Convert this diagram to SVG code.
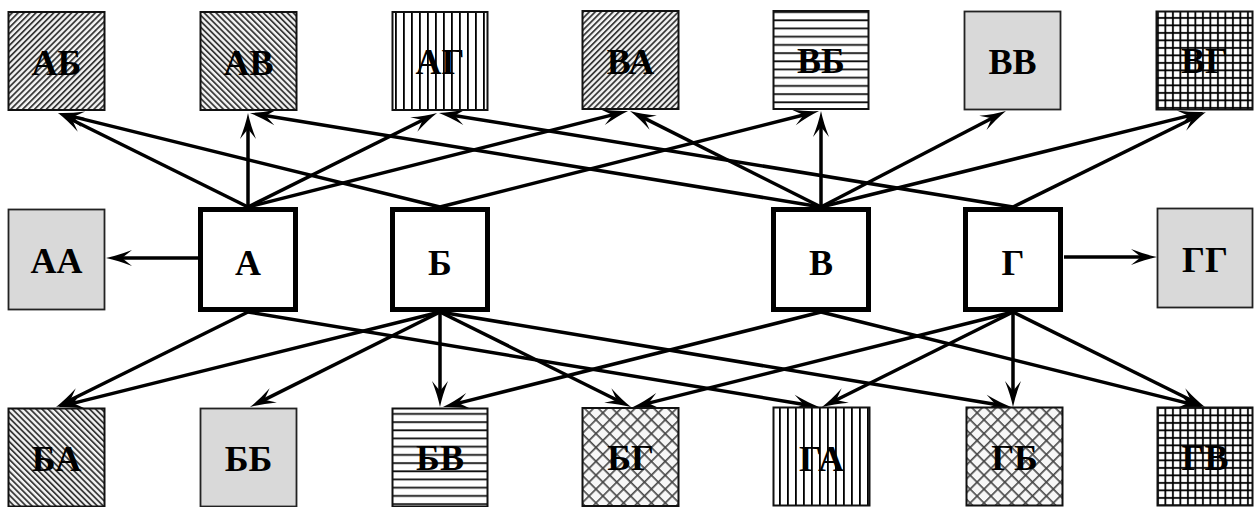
<svg xmlns="http://www.w3.org/2000/svg" width="1254" height="507" viewBox="0 0 1254 507">
  <style>
    .lbl { font-family: "Liberation Serif", "Times New Roman", serif; font-weight: bold; font-size: 36px; fill: #000; text-anchor: middle; }
    .leaf { stroke: #111; stroke-width: 2; }
    .grey { fill: #d9d9d9; stroke: #222; stroke-width: 1.8; }
    .core { fill: #fff; stroke: #000; stroke-width: 5; }
    .edge { stroke: #000; stroke-width: 3.5; fill: none; marker-end: url(#arrow); }
  </style>
  <defs>
    <marker id="arrow" markerUnits="userSpaceOnUse" markerWidth="28" markerHeight="16" refX="14" refY="8" orient="auto" overflow="visible">
      <path d="M26,8 Q14,5.5 0,0 L10,8 L0,16 Q14,10.5 26,8 Z" fill="#000"/>
    </marker>
    <!-- "/" hatching -->
    <pattern id="hatchR" patternUnits="userSpaceOnUse" width="4.2" height="4.2" patternTransform="rotate(45)">
      <rect width="4.2" height="4.2" fill="#f4f4f4"/>
      <rect width="1.8" height="4.2" fill="#3a3a3a"/>
    </pattern>
    <!-- "\" hatching -->
    <pattern id="hatchL" patternUnits="userSpaceOnUse" width="4.2" height="4.2" patternTransform="rotate(-45)">
      <rect width="4.2" height="4.2" fill="#f4f4f4"/>
      <rect width="1.8" height="4.2" fill="#3a3a3a"/>
    </pattern>
    <pattern id="vlines" patternUnits="userSpaceOnUse" width="8" height="8">
      <rect width="8" height="8" fill="#fff"/>
      <rect x="3" width="1.8" height="8" fill="#000"/>
    </pattern>
    <pattern id="hlines" patternUnits="userSpaceOnUse" width="8" height="8.2">
      <rect width="8" height="8.2" fill="#fff"/>
      <rect y="3" width="8" height="1.8" fill="#111"/>
    </pattern>
    <pattern id="grid" patternUnits="userSpaceOnUse" width="7.5" height="7.5">
      <rect width="7.5" height="7.5" fill="#fff"/>
      <rect x="2" width="1.8" height="7.5" fill="#000"/>
      <rect y="2" width="7.5" height="1.8" fill="#000"/>
    </pattern>
    <pattern id="cross" patternUnits="userSpaceOnUse" width="9.8" height="9.8" patternTransform="rotate(45)">
      <rect width="9.8" height="9.8" fill="#f7f7f7"/>
      <rect x="2" width="1.6" height="9.8" fill="#444"/>
      <rect y="2" width="9.8" height="1.6" fill="#444"/>
    </pattern>
  </defs>

  <rect width="1254" height="507" fill="#fff"/>

  <!-- connectors -->
  <g id="connectors">
    <!-- upward -->
    <line class="edge" x1="248" y1="207" x2="68.8" y2="118.3"/>
    <line class="edge" x1="440" y1="207" x2="69.7" y2="115.9"/>
    <line class="edge" x1="248" y1="207" x2="248" y2="125"/>
    <line class="edge" x1="821" y1="207" x2="261.8" y2="115"/>
    <line class="edge" x1="248" y1="207" x2="426.3" y2="118.3"/>
    <line class="edge" x1="1013" y1="207" x2="450.8" y2="114.9"/>
    <line class="edge" x1="248" y1="207" x2="616.4" y2="113.9"/>
    <line class="edge" x1="821" y1="207" x2="640.7" y2="116.4"/>
    <line class="edge" x1="440" y1="207" x2="807.4" y2="114"/>
    <line class="edge" x1="821" y1="207" x2="821" y2="123"/>
    <line class="edge" x1="821" y1="207" x2="995.3" y2="116.5"/>
    <line class="edge" x1="821" y1="207" x2="1192.4" y2="114.9"/>
    <line class="edge" x1="1013" y1="207" x2="1195.2" y2="117.3"/>
    <!-- sideways -->
    <line class="edge" x1="199" y1="258" x2="118" y2="258"/>
    <line class="edge" x1="1064" y1="257" x2="1145" y2="257"/>
    <!-- downward -->
    <line class="edge" x1="248" y1="312" x2="66.8" y2="401.7"/>
    <line class="edge" x1="440" y1="312" x2="69.6" y2="404.1"/>
    <line class="edge" x1="440" y1="312" x2="260.7" y2="401.6"/>
    <line class="edge" x1="440" y1="312" x2="440" y2="395"/>
    <line class="edge" x1="821" y1="312" x2="454.6" y2="404.1"/>
    <line class="edge" x1="440" y1="312" x2="620.3" y2="401.7"/>
    <line class="edge" x1="1013" y1="312" x2="644.6" y2="404.1"/>
    <line class="edge" x1="248" y1="312" x2="807.2" y2="405"/>
    <line class="edge" x1="1013" y1="312" x2="832.7" y2="401.7"/>
    <line class="edge" x1="440" y1="312" x2="999.2" y2="405"/>
    <line class="edge" x1="1013" y1="312" x2="1013" y2="395"/>
    <line class="edge" x1="821" y1="312" x2="1191.4" y2="404.1"/>
    <line class="edge" x1="1013" y1="312" x2="1194.2" y2="401.7"/>
  </g>

  <!-- central letters -->
  <g id="node-A"><rect class="core" x="200.5" y="209.5" width="95" height="100"/><text class="lbl" x="248" y="275">А</text></g>
  <g id="node-B"><rect class="core" x="392.5" y="209.5" width="95" height="100"/><text class="lbl" x="440" y="275">Б</text></g>
  <g id="node-V"><rect class="core" x="773.5" y="209.5" width="95" height="100"/><text class="lbl" x="821" y="275">В</text></g>
  <g id="node-G"><rect class="core" x="965.5" y="209.5" width="95" height="100"/><text class="lbl" x="1013" y="275">Г</text></g>

  <!-- side pairs -->
  <g id="node-AA"><rect class="grey" x="8.5" y="209.5" width="96" height="100"/><text class="lbl" x="56.5" y="273">АА</text></g>
  <g id="node-GG"><rect class="grey" x="1157.5" y="208.5" width="95" height="99"/><text class="lbl" x="1205" y="272">ГГ</text></g>

  <!-- upper pairs -->
  <g id="node-AB"><rect class="leaf" fill="url(#hatchR)" x="8.5" y="12" width="96" height="98"/><text class="lbl" x="56.5" y="75">АБ</text></g>
  <g id="node-AV"><rect class="leaf" fill="url(#hatchL)" x="200.5" y="12" width="96" height="98"/><text class="lbl" x="248.5" y="75">АВ</text></g>
  <g id="node-AG"><rect class="leaf" fill="url(#vlines)" x="392.5" y="12" width="95" height="98"/><text class="lbl" x="440" y="74">АГ</text></g>
  <g id="node-VA"><rect class="leaf" fill="url(#hatchR)" x="582.5" y="11" width="96" height="98"/><text class="lbl" x="630.5" y="74">ВА</text></g>
  <g id="node-VB"><rect class="leaf" fill="url(#hlines)" x="773.5" y="11" width="95" height="98"/><text class="lbl" x="821" y="73">ВБ</text></g>
  <g id="node-VV"><rect class="grey" x="964.5" y="11.5" width="96" height="98"/><text class="lbl" x="1012.5" y="74">ВВ</text></g>
  <g id="node-VG"><rect class="leaf" fill="url(#grid)" x="1156.5" y="11.5" width="96" height="98"/><text class="lbl" x="1204.5" y="73">ВГ</text></g>

  <!-- lower pairs -->
  <g id="node-BA"><rect class="leaf" fill="url(#hatchL)" x="8.5" y="408.5" width="96" height="98"/><text class="lbl" x="56.5" y="471">БА</text></g>
  <g id="node-BB"><rect class="grey" x="200.5" y="408.5" width="96" height="98"/><text class="lbl" x="248.5" y="471">ББ</text></g>
  <g id="node-BV"><rect class="leaf" fill="url(#hlines)" x="392.5" y="408.5" width="95" height="98"/><text class="lbl" x="440" y="470">БВ</text></g>
  <g id="node-BG"><rect class="leaf" fill="url(#cross)" x="582.5" y="408" width="96" height="98"/><text class="lbl" x="630.5" y="470">БГ</text></g>
  <g id="node-GA"><rect class="leaf" fill="url(#vlines)" x="773.5" y="407.5" width="96" height="98"/><text class="lbl" x="821.5" y="471">ГА</text></g>
  <g id="node-GB"><rect class="leaf" fill="url(#cross)" x="966.5" y="407.5" width="96" height="98"/><text class="lbl" x="1014.5" y="470">ГБ</text></g>
  <g id="node-GV"><rect class="leaf" fill="url(#grid)" x="1157.5" y="407.5" width="95" height="98"/><text class="lbl" x="1205" y="470">ГВ</text></g>
</svg>
